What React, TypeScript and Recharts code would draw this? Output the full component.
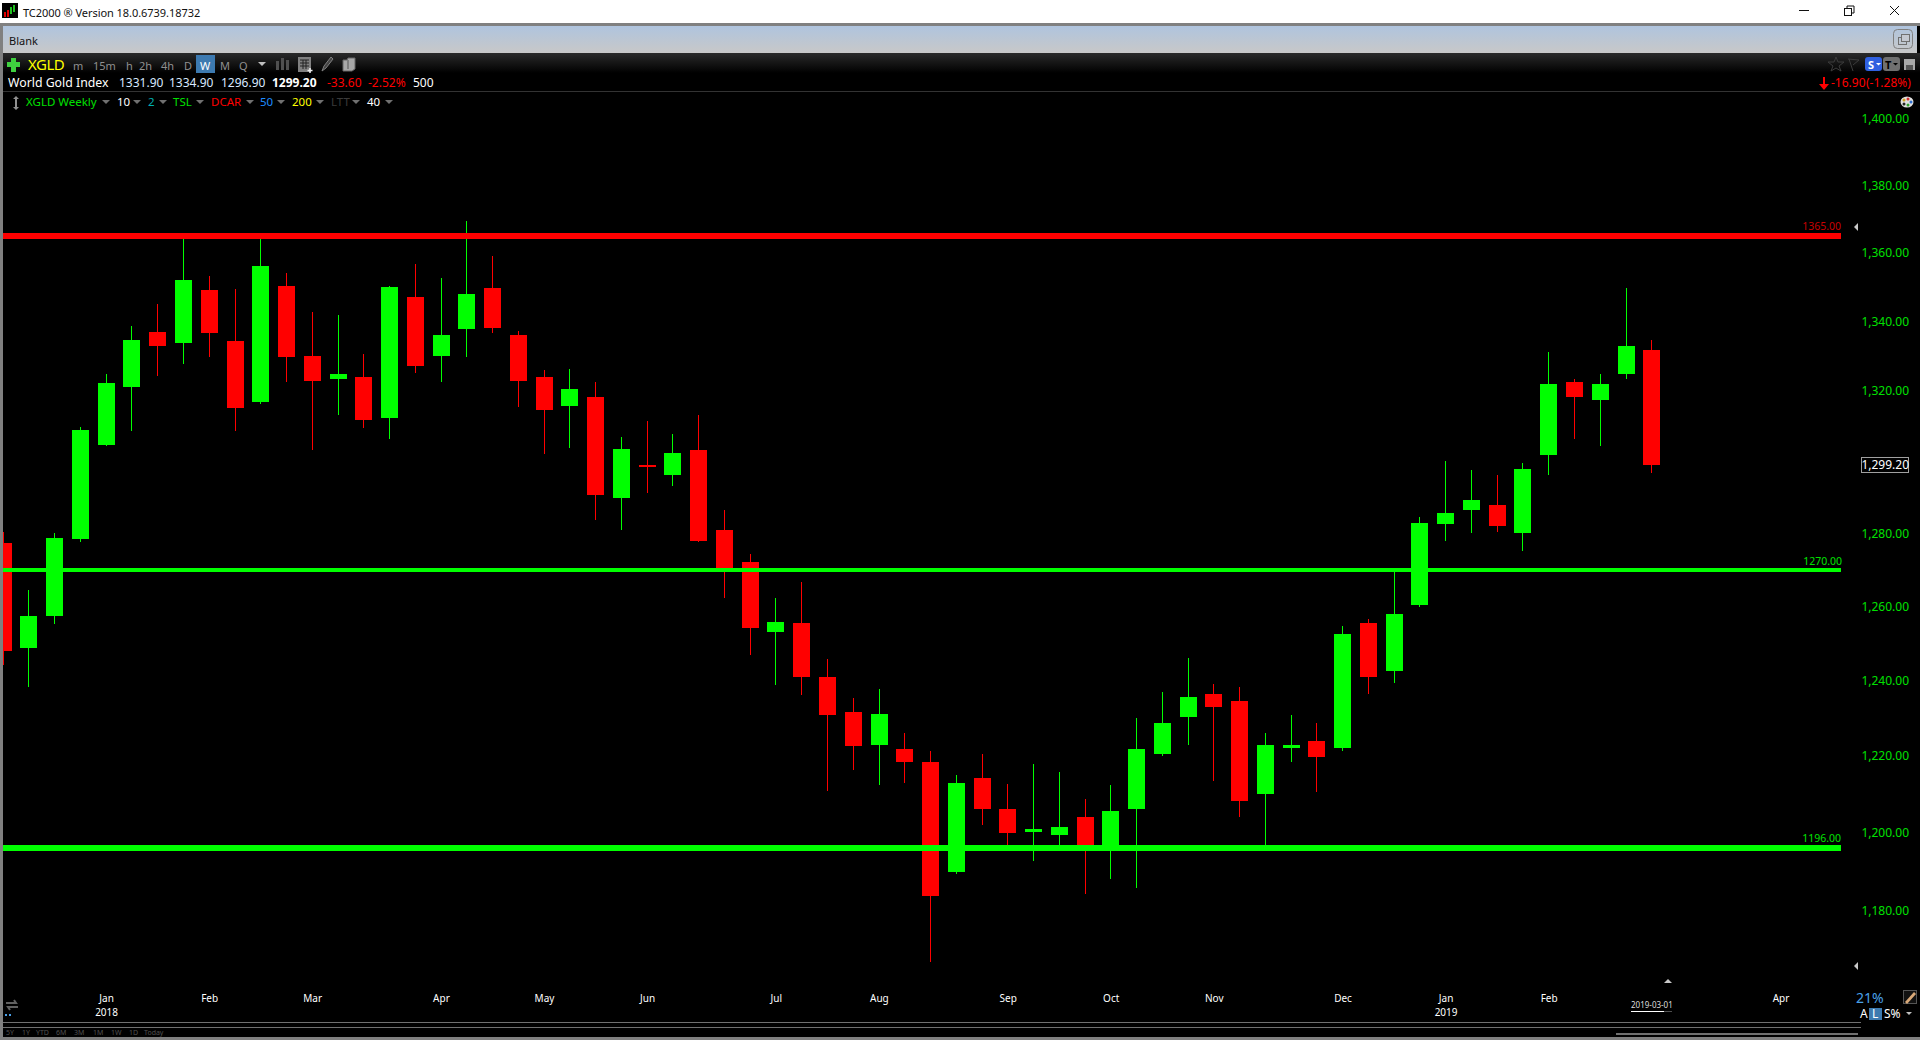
import React from "react";
import { ComposedChart, Bar, Cell, XAxis, YAxis, ReferenceLine } from "recharts";

// weekly XGLD candles (log price axis)
const opens = [1277.5, 1248.9, 1257.5, 1278.6, 1304.9, 1321.4, 1337.2, 1333.8, 1349.2, 1334.6, 1316.9, 1350.3, 1330.3, 1323.7, 1324.0, 1312.6, 1347.1, 1330.3, 1337.8, 1349.8, 1336.1, 1324.0, 1316.0, 1318.3, 1290.1, 1299.3, 1296.5, 1303.5, 1281.1, 1272.3, 1253.2, 1255.6, 1241.0, 1231.7, 1222.9, 1221.8, 1218.4, 1190.0, 1214.4, 1206.3, 1200.3, 1199.5, 1204.0, 1196.2, 1206.3, 1220.7, 1230.3, 1236.5, 1234.6, 1210.0, 1222.3, 1223.9, 1222.1, 1255.6, 1242.6, 1260.5, 1282.8, 1286.7, 1288.1, 1280.3, 1302.1, 1322.6, 1317.7, 1324.9, 1331.9];
const highs = [1280.6, 1264.6, 1280.3, 1309.8, 1324.9, 1338.7, 1345.1, 1365.9, 1353.3, 1349.5, 1365.9, 1354.1, 1343.0, 1342.1, 1330.6, 1350.3, 1356.8, 1352.7, 1369.5, 1359.1, 1337.5, 1326.0, 1326.3, 1322.6, 1307.2, 1311.5, 1307.8, 1313.2, 1286.7, 1274.5, 1262.4, 1266.8, 1245.9, 1235.4, 1237.8, 1226.1, 1221.3, 1215.2, 1220.7, 1212.6, 1217.9, 1215.8, 1208.7, 1212.4, 1230.1, 1237.0, 1246.1, 1239.1, 1238.3, 1226.1, 1230.8, 1228.7, 1254.8, 1256.7, 1270.4, 1284.7, 1300.4, 1297.9, 1296.5, 1299.8, 1331.2, 1323.7, 1324.9, 1349.8, 1334.9];
const lows = [1244.3, 1238.3, 1255.3, 1277.8, 1304.6, 1308.9, 1324.3, 1328.0, 1330.0, 1308.9, 1316.3, 1322.8, 1303.5, 1313.2, 1309.5, 1306.6, 1325.4, 1322.6, 1330.0, 1336.9, 1315.7, 1302.4, 1304.1, 1283.9, 1281.1, 1291.5, 1293.4, 1277.8, 1262.4, 1247.0, 1238.9, 1236.2, 1210.8, 1216.5, 1212.4, 1213.1, 1167.1, 1189.5, 1202.1, 1196.2, 1192.6, 1196.2, 1184.3, 1188.0, 1185.9, 1220.2, 1222.9, 1213.4, 1204.2, 1196.4, 1218.4, 1210.5, 1221.3, 1236.5, 1239.4, 1259.9, 1278.1, 1280.3, 1280.6, 1275.3, 1296.5, 1306.4, 1304.6, 1323.7, 1296.9];
const closes = [1248.0, 1257.5, 1278.9, 1309.2, 1322.3, 1334.9, 1332.9, 1352.1, 1336.9, 1315.4, 1356.2, 1330.0, 1323.1, 1324.9, 1312.0, 1350.0, 1327.2, 1336.1, 1348.0, 1338.1, 1323.1, 1314.6, 1320.8, 1290.9, 1303.8, 1298.7, 1302.7, 1278.1, 1270.4, 1254.3, 1255.9, 1241.0, 1230.9, 1222.6, 1231.1, 1218.6, 1183.8, 1213.1, 1206.3, 1200.0, 1201.1, 1201.4, 1196.4, 1205.6, 1221.8, 1228.7, 1235.7, 1233.0, 1208.4, 1222.9, 1223.1, 1219.9, 1252.6, 1241.0, 1258.1, 1283.0, 1285.9, 1289.5, 1282.2, 1298.2, 1322.0, 1318.3, 1322.0, 1332.9, 1299.2];

const priceTicks = [1400, 1380, 1360, 1340, 1320, 1299.2, 1280, 1260, 1240, 1220, 1200, 1180];
const lastPrice = 1299.2;

const monthBars = [4, 8, 12, 17, 21, 25, 30, 34, 39, 43, 47, 52, 56, 60, 69];
const monthLabels = ["Jan", "Feb", "Mar", "Apr", "May", "Jun", "Jul", "Aug", "Sep", "Oct", "Nov", "Dec", "Jan", "Feb", "Apr"];
const yearLabels: Record<number, string> = { 4: "2018", 56: "2019" };

const levels = [
  { value: 1365, color: "#ff0000", labelColor: "#c80000", width: 6 },
  { value: 1270, color: "#00ff00", labelColor: "#00e000", width: 4 },
  { value: 1196, color: "#00ff00", labelColor: "#00e000", width: 6 },
];

const rangeButtons = ["5Y", "1Y", "YTD", "6M", "3M", "1M", "1W", "1D", "Today"];

const candles = opens.map((open, i) => ({
  i,
  open,
  close: closes[i],
  body: [Math.min(open, closes[i]), Math.max(open, closes[i])],
  wick: [lows[i], highs[i]],
}));

const GREEN = "#00ff00";
const RED = "#ff0000";
const FONT = '"Noto Sans", sans-serif';

const money = (v: number) =>
  v.toLocaleString("en-US", { minimumFractionDigits: 2, maximumFractionDigits: 2 });

const PriceTick = ({ y, payload }: any) => {
  const isLast = payload.value === lastPrice;
  return (
    <g>
      {isLast && <rect x={1861.5} y={y - 8} width={47} height={15} fill="#000" stroke="#a0a0a0" />}
      <text x={1909} y={y} dy={4} textAnchor="end" fontFamily={FONT} fontSize={12} fill={isLast ? "#fff" : "#00e000"} style={{ shapeRendering: "auto" }}>
        {money(payload.value)}
      </text>
    </g>
  );
};

const MonthTick = ({ x, payload }: any) => {
  const idx = monthBars.indexOf(payload.value);
  return (
    <g fontFamily={FONT} fontSize={10} fill="#fff" textAnchor="middle">
      <text x={x} y={1002}>{monthLabels[idx]}</text>
      {yearLabels[payload.value] && <text x={x} y={1016}>{yearLabels[payload.value]}</text>}
    </g>
  );
};

const T = ({ x, y, c = "#fff", s = 12, b = false, ls = 0, children }: any) => (
  <span
    style={{
      position: "absolute",
      left: x,
      top: y,
      transform: "translateY(-50%)",
      color: c,
      fontSize: s,
      fontWeight: b ? 700 : 400,
      fontFamily: FONT,
      whiteSpace: "nowrap",
      lineHeight: 1,
      letterSpacing: ls,
    }}
  >
    {children}
  </span>
);

const Box = ({ x, y, w, h, bg, r = 0 }: any) => (
  <div style={{ position: "absolute", left: x, top: y, width: w, height: h, background: bg, borderRadius: r }} />
);

const Tri = ({ x, y, dir = "down", size = 4, c = "#707070" }: any) => {
  const pts: Record<string, string> = {
    down: `0,0 ${size * 2},0 ${size},${size}`,
    left: `${size},0 ${size},${size * 2} 0,${size}`,
    up: `${size},0 ${size * 2},${size} 0,${size}`,
  };
  return (
    <svg style={{ position: "absolute", left: x, top: y }} width={size * 2} height={size * 2}>
      <polygon points={pts[dir]} fill={c} />
    </svg>
  );
};

// small toolbar glyphs, drawn in page pixels
const Icons = () => (
  <svg style={{ position: "absolute", left: 0, top: 0 }} width={1920} height={1040} fill="none">
    {/* restore button */}
    <rect x={1844.5} y={8.5} width={7} height={7} stroke="#111" />
    <path d="M1847 8V6h7v7h-2" stroke="#111" />
    {/* close button */}
    <path d="M1890 6l9 9M1899 6l-9 9" stroke="#111" />
    {/* blank-bar pages */}
    <rect x={1893.5} y={29.5} width={19} height={19} rx={4} stroke="#808080" />
    <rect x={1898.5} y={37.5} width={8} height={7} stroke="#707070" />
    <rect x={1901.5} y={34.5} width={8} height={7} stroke="#707070" fill="#c4c8d0" />
    {/* calc */}
    <rect x={298} y={57} width={13} height={15} fill="#808080" />
    <path d="M300 60h9M300 63h9M300 66h9M303 60v9M306 60v9" stroke="#222" />
    <path d="M310 68v5M307.500 70.500h5" stroke="#eee" strokeWidth={1.5} />
    {/* pencil */}
    <path d="M322 71l2-5 7-9 2 2-7 9z" stroke="#808080" fill="#444" />
    {/* pages */}
    <path d="M343 60h4l1-2h7v11l-3 2h-9z" fill="#a8a8a8" stroke="#666" />
    <path d="M348 60v9" stroke="#555" />
    {/* star + flag */}
    <polygon points="1836,57 1838,62 1844,62 1839,66 1841,71 1836,68 1831,71 1833,66 1828,62 1834,62" stroke="#3c3c3c" />
    <path d="M1848 59l11 1-6 5M1849 59l4 12" stroke="#3c3c3c" />
    {/* save */}
    <rect x={1904} y={59} width={11} height={11} fill="#a8a8a8" />
    <rect x={1906} y={65} width={7} height={5} fill="#555" />
    {/* down arrow */}
    <path d="M1824 77v12" stroke="#ff0000" strokeWidth={2} />
    <path d="M1819 84h10l-5 6z" fill="#ff0000" />
    {/* up/down mover */}
    <path d="M13 99l3-3 3 3zM13 107l3 3 3-3z" fill="#909090" />
    <path d="M16 98v10" stroke="#909090" strokeWidth={2} />
    {/* palette */}
    <ellipse cx={1907} cy={102} rx={6.500} ry={5.500} fill="#e0e0e0" />
    <circle cx={1904} cy={100} r={1.500} fill="#d0a020" />
    <circle cx={1908} cy={99} r={1.500} fill="#d03030" />
    <circle cx={1911} cy={102} r={1.500} fill="#3070d0" />
    <circle cx={1908} cy={105} r={1.500} fill="#30a030" />
    <circle cx={1904} cy={104} r={1.500} fill="#222" />
    {/* loop */}
    <path d="M6 1003h10l-2-3M18 1007H8l2 3" stroke="#606060" strokeWidth={2} />
    <rect x={5} y={1014} width={2} height={2} fill="#4aa0e8" />
    <rect x={9} y={1014} width={2} height={2} fill="#4aa0e8" />
    {/* ruler pencil */}
    <rect x={1903.5} y={990.500} width={13} height={13} stroke="#555" fill="#111" />
    <path d="M1905 1002l9-10 2 2-9 10z" fill="#d8a878" />
  </svg>
);

const Chrome = () => (
  <>
    {/* title bar */}
    <Box x={0} y={0} w={1920} h={23} bg="#fff" />
    <Box x={2} y={3} w={16} h={15} bg="#000" />
    <Box x={4} y={12} w={2} h={5} bg="#e00000" />
    <Box x={7} y={10} w={2} h={7} bg="#e00000" />
    <Box x={10} y={7} w={2} h={7} bg="#20c020" />
    <Box x={13} y={5} w={2} h={7} bg="#20c020" />
    <T x={23} y={12} c="#111" s={11} ls={-0.05}>TC2000 ® Version 18.0.6739.18732</T>
    <Box x={1799} y={10} w={10} h={1} bg="#111" />

    {/* blank bar */}
    <Box x={0} y={23} w={1920} h={3} bg="#808080" />
    <div style={{ position: "absolute", left: 3, top: 26, width: 1914, height: 27, background: "linear-gradient(#afc4de,#c8c8c8)" }} />
    <Box x={0} y={26} w={3} h={1014} bg="#808080" />
    <T x={9} y={40} c="#111" s={11}>Blank</T>

    {/* toolbar */}
    <div style={{ position: "absolute", left: 3, top: 53, width: 1917, height: 20, background: "linear-gradient(#2a2a2a,#000)" }} />
    <Box x={11} y={58} w={5} h={14} bg="#3fd03f" />
    <Box x={7} y={62} w={13} h={5} bg="#3fd03f" />
    <T x={28} y={64} c="#ffff00" s={15} ls={-0.5}>XGLD</T>
    <T x={73} y={65} c="#909090" s={11}>m</T>
    <T x={93} y={65} c="#909090" s={11}>15m</T>
    <T x={126} y={65} c="#909090" s={11}>h</T>
    <T x={139} y={65} c="#909090" s={11}>2h</T>
    <T x={161} y={65} c="#909090" s={11}>4h</T>
    <T x={184} y={65} c="#909090" s={11}>D</T>
    <Box x={196} y={55} w={19} h={18} bg="#3d7ab0" />
    <T x={200} y={65} c="#fff" s={11}>W</T>
    <T x={220} y={65} c="#909090" s={11}>M</T>
    <T x={239} y={65} c="#909090" s={11}>Q</T>
    <Tri x={258} y={62} size={4} c="#c0c0c0" />
    <Box x={276} y={61} w={3} h={9} bg="#505050" />
    <Box x={281} y={58} w={3} h={12} bg="#505050" />
    <Box x={286} y={60} w={3} h={10} bg="#505050" />
    <Box x={1865} y={57} w={17} h={14} bg="#3060e0" r={3} />
    <T x={1868} y={64} c="#fff" s={11} b>S</T>
    <Tri x={1876} y={63} size={2.5} c="#fff" />
    <Box x={1883} y={57} w={17} h={14} bg="#707070" r={3} />
    <T x={1885} y={64} c="#000" s={11} b>T</T>
    <Tri x={1893} y={63} size={2.5} c="#000" />

    {/* quote row */}
    <T x={8} y={83} s={12.3}>World Gold Index</T>
    <T x={119} y={83} c="#d8e8ff" s={12}>1331.90</T>
    <T x={169} y={83} c="#d8e8ff" s={12}>1334.90</T>
    <T x={221} y={83} c="#d8e8ff" s={12}>1296.90</T>
    <T x={272} y={83} s={12} b>1299.20</T>
    <T x={327} y={83} c={RED} s={12}>-33.60</T>
    <T x={368} y={83} c={RED} s={12}>-2.52%</T>
    <T x={413} y={83} s={12}>500</T>
    <T x={1831} y={83} c={RED} s={12}>-16.90</T>
    <T x={1866} y={83} c={RED} s={12}>(-1.28%)</T>
    <Box x={3} y={91} w={1917} h={1} bg="#333" />

    {/* study row */}
    <T x={26} y={102} c="#00e000" s={11.5}>XGLD Weekly</T>
    <Tri x={102} y={100} />
    <T x={117} y={102} s={11.5}>10</T>
    <Tri x={133} y={100} />
    <T x={148} y={102} c="#00b0b0" s={11.5}>2</T>
    <Tri x={159} y={100} />
    <T x={173} y={102} c="#00e000" s={11.5}>TSL</T>
    <Tri x={196} y={100} />
    <T x={211} y={102} c={RED} s={11.5}>DCAR</T>
    <Tri x={246} y={100} />
    <T x={260} y={102} c="#1e8cff" s={11.5}>50</T>
    <Tri x={277} y={100} />
    <T x={292} y={102} c="#ffff00" s={11.5}>200</T>
    <Tri x={316} y={100} />
    <T x={331} y={102} c="#3a3a3a" s={11.5}>LTT</T>
    <Tri x={352} y={100} />
    <T x={367} y={102} s={11.5}>40</T>
    <Tri x={385} y={100} />

    {/* scroll markers */}
    <Tri x={1854} y={223} dir="left" c="#c8c8c8" />
    <Tri x={1854} y={962} dir="left" c="#c8c8c8" />
    <Tri x={1664} y={979} dir="up" c="#c8c8c8" />

    {/* bottom strip */}
    <T x={1631} y={1005} c="#ddd" s={8}>2019-03-01</T>
    <Box x={1631} y={1011} w={33} h={1} bg="#fff" />
    <Box x={1664} y={1011} w={8} h={1} bg="#505050" />
    <T x={1856} y={998} c="#4aa0e8" s={14}>21%</T>
    <T x={1860} y={1014} s={12}>A</T>
    <Box x={1869} y={1008} w={13} h={12} bg="#3d7ab0" />
    <T x={1872} y={1014} s={12}>L</T>
    <T x={1884} y={1014} s={12}>S%</T>
    <Tri x={1906} y={1012} size={3} c="#c0c0c0" />
    <Box x={3} y={1022} w={1858} h={1} bg="#707070" />
    <Box x={3} y={1027} w={1858} h={1} bg="#707070" />
    {rangeButtons.map((label, idx) => (
      <T key={label} x={[6, 22, 36, 56, 74, 93, 111, 129, 144][idx]} y={1032} c="#505050" s={7}>{label}</T>
    ))}
    <Box x={1616} y={1033} w={242} h={2} bg="#707070" />
    <Box x={0} y={1037} w={1920} h={3} bg="#808080" />
    <Icons />
  </>
);

const App = () => {
  return (
    <div style={{ position: "absolute", left: 0, top: 0, width: 1920, height: 1040, background: "#000", overflow: "hidden" }}>
      <ComposedChart
        width={1920}
        height={1040}
        data={candles}
        margin={{ top: 100, right: 0, bottom: 0, left: 3 }}
        barGap={0}
        style={{ shapeRendering: "crispEdges" }}
      >
        <XAxis
          xAxisId="main"
          dataKey="i"
          type="number"
          domain={[-0.021, 71.33]}
          allowDataOverflow
          ticks={monthBars}
          interval={0}
          height={55}
          axisLine={false}
          tickLine={false}
          tick={<MonthTick />}
        />
        <XAxis xAxisId="wick" dataKey="i" type="number" domain={[-0.021, 71.33]} allowDataOverflow hide />
        <YAxis
          orientation="right"
          scale="log"
          domain={[1161.2, 1405.77]}
          allowDataOverflow
          ticks={priceTicks}
          interval={0}
          width={79}
          axisLine={false}
          tickLine={false}
          tick={<PriceTick />}
        />
        <Bar xAxisId="wick" dataKey="wick" barSize={1} isAnimationActive={false}>
          {candles.map((c) => (
            <Cell key={c.i} fill={c.close >= c.open ? GREEN : RED} />
          ))}
        </Bar>
        <Bar xAxisId="main" dataKey="body" barSize={17} isAnimationActive={false}>
          {candles.map((c) => (
            <Cell key={c.i} fill={c.close >= c.open ? GREEN : RED} />
          ))}
        </Bar>
        {levels.map((l) => (
          <ReferenceLine
            key={l.value}
            xAxisId="main"
            y={l.value}
            stroke={l.color}
            strokeWidth={l.width}
            label={{
              value: l.value.toFixed(2),
              position: "insideBottomRight",
              fill: l.labelColor,
              fontSize: 10.5,
              fontFamily: FONT,
              offset: 3 + l.width / 2,
              dx: 6,
            }}
          />
        ))}
      </ComposedChart>
      <Chrome />
    </div>
  );
};

export default App;
